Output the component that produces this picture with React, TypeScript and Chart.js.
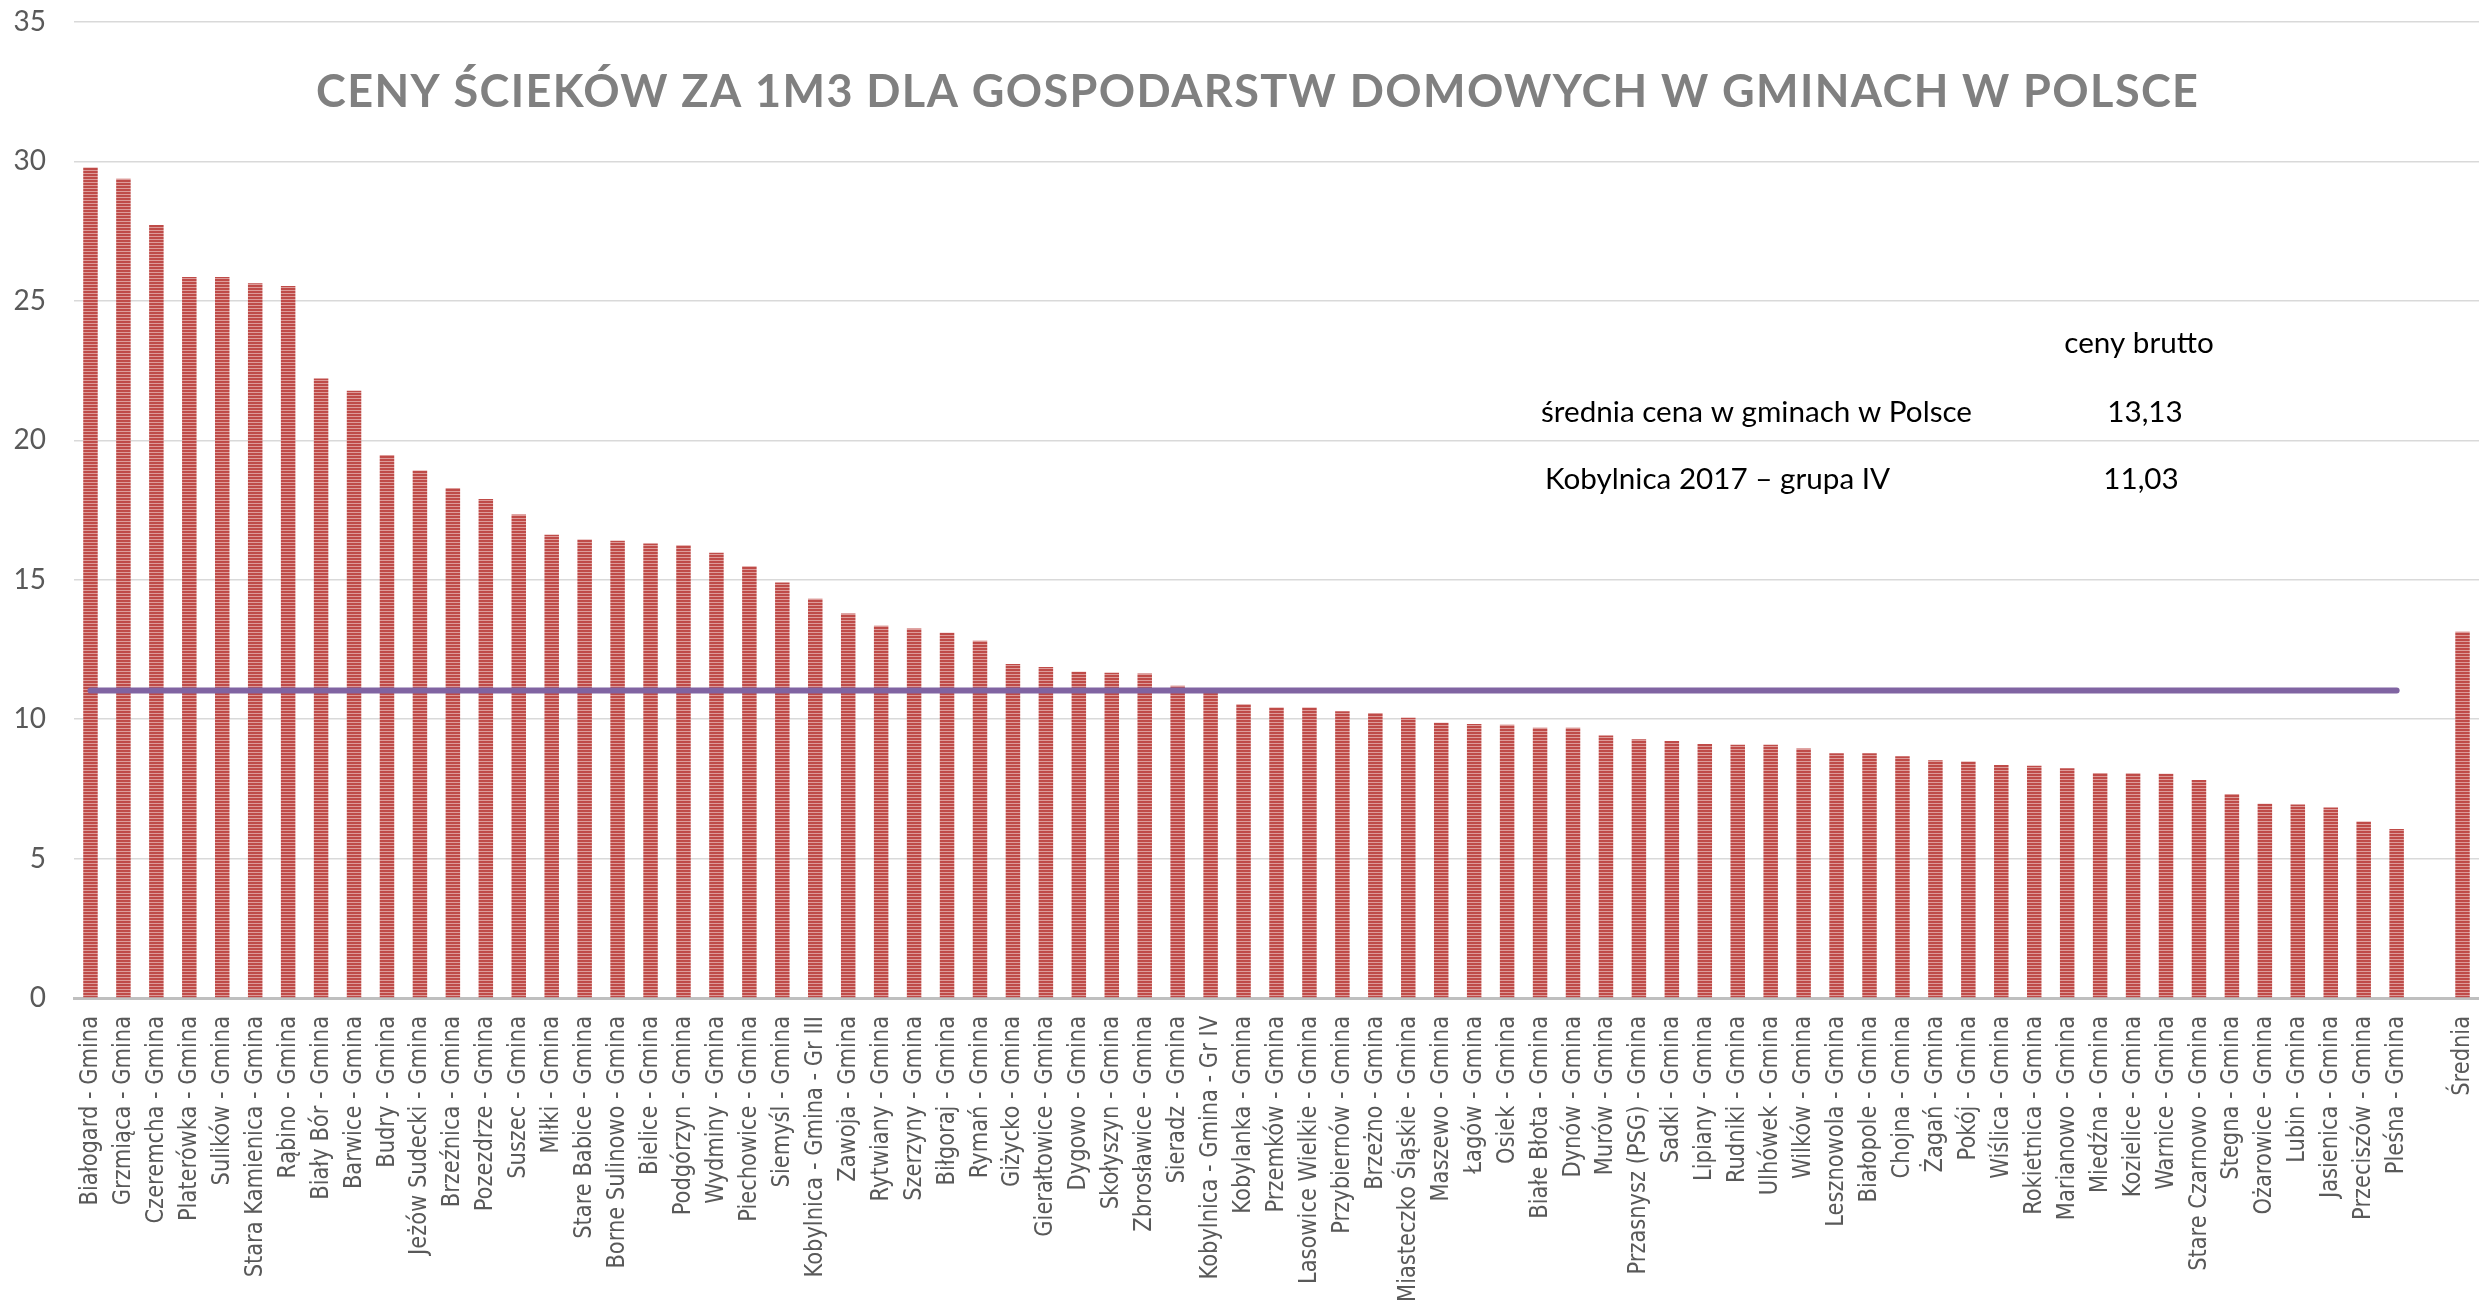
import React, { useEffect, useRef } from "react";
import { Chart, registerables } from "chart.js";

Chart.register(...registerables);

// ---------- data ----------
const categories: string[] = [
  "Białogard - Gmina", "Grzmiąca - Gmina", "Czeremcha - Gmina", "Platerówka - Gmina",
  "Sulików - Gmina", "Stara Kamienica - Gmina", "Rąbino - Gmina", "Biały Bór - Gmina",
  "Barwice - Gmina", "Budry - Gmina", "Jeżów Sudecki - Gmina", "Brzeźnica - Gmina",
  "Pozezdrze - Gmina", "Suszec - Gmina", "Miłki - Gmina", "Stare Babice - Gmina",
  "Borne Sulinowo - Gmina", "Bielice - Gmina", "Podgórzyn - Gmina", "Wydminy - Gmina",
  "Piechowice - Gmina", "Siemyśl - Gmina", "Kobylnica - Gmina - Gr III", "Zawoja - Gmina",
  "Rytwiany - Gmina", "Szerzyny - Gmina", "Biłgoraj - Gmina", "Rymań - Gmina",
  "Giżycko - Gmina", "Gierałtowice - Gmina", "Dygowo - Gmina", "Skołyszyn - Gmina",
  "Zbrosławice - Gmina", "Sieradz - Gmina", "Kobylnica - Gmina - Gr IV", "Kobylanka - Gmina",
  "Przemków - Gmina", "Lasowice Wielkie - Gmina", "Przybiernów - Gmina", "Brzeżno - Gmina",
  "Miasteczko Śląskie - Gmina", "Maszewo - Gmina", "Łagów - Gmina", "Osiek - Gmina",
  "Białe Błota - Gmina", "Dynów - Gmina", "Murów - Gmina", "Przasnysz (PSG) - Gmina",
  "Sadki - Gmina", "Lipiany - Gmina", "Rudniki - Gmina", "Ulhówek - Gmina",
  "Wilków - Gmina", "Lesznowola - Gmina", "Białopole - Gmina", "Chojna - Gmina",
  "Żagań - Gmina", "Pokój - Gmina", "Wiślica - Gmina", "Rokietnica - Gmina",
  "Marianowo - Gmina", "Miedźna - Gmina", "Kozielice - Gmina", "Warnice - Gmina",
  "Stare Czarnowo - Gmina", "Stegna - Gmina", "Ożarowice - Gmina", "Lubin - Gmina",
  "Jasienica - Gmina", "Przeciszów - Gmina", "Pleśna - Gmina", "", "Średnia",
];

const prices: (number | null)[] = [
  29.78, 29.38, 27.72, 25.86, 25.86, 25.63, 25.53, 22.22,
  21.78, 19.47, 18.92, 18.29, 17.89, 17.34, 16.61, 16.44,
  16.4, 16.3, 16.24, 15.97, 15.48, 14.9, 14.32, 13.79,
  13.35, 13.25, 13.1, 12.81, 11.98, 11.87, 11.7, 11.66,
  11.64, 11.2, 11.03, 10.53, 10.42, 10.42, 10.28, 10.22,
  10.05, 9.87, 9.83, 9.8, 9.69, 9.69, 9.41, 9.28,
  9.22, 9.11, 9.08, 9.08, 8.95, 8.78, 8.78, 8.67,
  8.53, 8.48, 8.36, 8.33, 8.24, 8.07, 8.06, 8.04,
  7.82, 7.32, 6.97, 6.94, 6.83, 6.33, 6.06, null, 13.13,
];

const kobylnicaGrIV = 11.03;
const yMin = 0;
const yMax = 35;
const yStep = 5;

const titleText = "CENY ŚCIEKÓW ZA 1M3 DLA GOSPODARSTW DOMOWYCH W GMINACH W POLSCE";
const legendHeader = "ceny brutto";
const legendRowLabels = ["średnia cena w gminach w Polsce", "Kobylnica 2017 – grupa IV"];
const legendRowValues = ["13,13", "11,03"];

const referenceLine = categories.map((c) => (c.includes("Gmina") ? kobylnicaGrIV : null));

// ---------- helpers ----------
function makeStripePattern(ctx: CanvasRenderingContext2D): CanvasPattern | string {
  const c = document.createElement("canvas");
  c.width = 4;
  c.height = 3;
  const g = c.getContext("2d");
  if (!g) return "#C0504D";
  g.fillStyle = "#BF4B48";
  g.fillRect(0, 0, 4, 3);
  g.fillStyle = "#DD9C9A";
  g.fillRect(0, 2, 4, 1);
  return ctx.createPattern(c, "repeat") || "#C0504D";
}

const textPlugin = {
  id: "customText",
  afterDraw(chart: any) {
    const ctx: CanvasRenderingContext2D = chart.ctx;
    const xs = chart.scales.x;
    const area = chart.chartArea;

    // x-axis labels (rotated)
    ctx.save();
    ctx.fillStyle = "#595959";
    ctx.font = '21px "DejaVu Sans"';
    ctx.textAlign = "right";
    ctx.textBaseline = "middle";
    categories.forEach((lab, i) => {
      if (!lab) return;
      const x = xs.getPixelForValue(i);
      ctx.save();
      ctx.translate(x, area.bottom + 18);
      ctx.rotate(-Math.PI / 2);
      ctx.scale(1, 1.2);
      ctx.fillText(lab, 0, 0);
      ctx.restore();
    });
    ctx.restore();

    // title
    ctx.save();
    ctx.fillStyle = "#808080";
    ctx.font = 'bold 45px Lato';
    (ctx as any).letterSpacing = "0px";
    const w0 = ctx.measureText(titleText).width;
    const targetW = 1882;
    const sp = (targetW - w0) / (titleText.length - 1);
    (ctx as any).letterSpacing = sp + "px";
    ctx.textAlign = "left";
    ctx.textBaseline = "middle";
    ctx.fillText(titleText, 1257 - targetW / 2, 92);
    ctx.restore();

    // legend-like text block
    ctx.save();
    ctx.fillStyle = "#000000";
    ctx.font = '28px Lato';
    ctx.textBaseline = "middle";
    const sx = 431 / ctx.measureText(legendRowLabels[0]).width;
    const drawText = (t: string, x: number, y: number, align: CanvasTextAlign) => {
      ctx.save();
      ctx.translate(x, y);
      ctx.scale(sx, 1);
      ctx.textAlign = align;
      ctx.fillText(t, 0, 0);
      ctx.restore();
    };
    drawText(legendHeader, 2139, 344, "center");
    drawText(legendRowLabels[0], 1541, 413, "left");
    drawText(legendRowValues[0], 2145, 413, "center");
    drawText(legendRowLabels[1], 1545, 480, "left");
    drawText(legendRowValues[1], 2141, 480, "center");
    ctx.restore();
  },
};

export default function App() {
  const canvasRef = useRef<HTMLCanvasElement | null>(null);

  useEffect(() => {
    const canvas = canvasRef.current;
    if (!canvas) return;
    const ctx = canvas.getContext("2d");
    if (!ctx) return;
    const stripes = makeStripePattern(ctx);

    const chart = new Chart(ctx, {
      type: "bar",
      data: {
        labels: categories,
        datasets: [
          {
            type: "line",
            label: "Kobylnica 2017 – grupa IV",
            data: referenceLine,
            borderColor: "#8064A2",
            backgroundColor: "#8064A2",
            borderWidth: 6,
            borderCapStyle: "round",
            pointRadius: 0,
            pointHoverRadius: 0,
            spanGaps: false,
            order: 1,
          } as any,
          {
            type: "bar",
            label: "ceny brutto",
            data: prices,
            backgroundColor: stripes as any,
            borderWidth: 0,
            barPercentage: 0.44,
            categoryPercentage: 1,
            order: 2,
          } as any,
        ],
      },
      options: {
        animation: false,
        responsive: false,
        maintainAspectRatio: false,
        devicePixelRatio: 1,
        layout: { padding: { top: 22, left: 0, right: 0, bottom: 0 } },
        plugins: {
          legend: { display: false },
          tooltip: { enabled: false },
          title: { display: false },
        },
        scales: {
          x: {
            type: "category",
            offset: true,
            grid: { display: false, drawTicks: false },
            border: { display: true, color: "#BFBFBF", width: 3 },
            ticks: { display: false },
            afterFit: (s: any) => {
              s.height = 311;
              s.paddingLeft = 0;
              s.paddingRight = 0;
            },
          },
          y: {
            min: yMin,
            max: yMax,
            ticks: {
              stepSize: yStep,
              padding: 28,
              color: "#595959",
              font: { family: "Lato", size: 28 },
            },
            grid: { color: "#D9D9D9", lineWidth: 1.5, drawTicks: false },
            border: { display: false },
            afterFit: (s: any) => {
              s.width = 74;
              s.paddingTop = 0;
              s.paddingBottom = 0;
            },
          },
        },
      } as any,
      plugins: [textPlugin],
    });

    return () => {
      chart.destroy();
    };
  }, []);

  return (
    <div style={{ position: "fixed", left: 0, top: 0, width: 2479, height: 1309, background: "#ffffff" }}>
      <canvas ref={canvasRef} width={2479} height={1309} style={{ display: "block" }} />
    </div>
  );
}
